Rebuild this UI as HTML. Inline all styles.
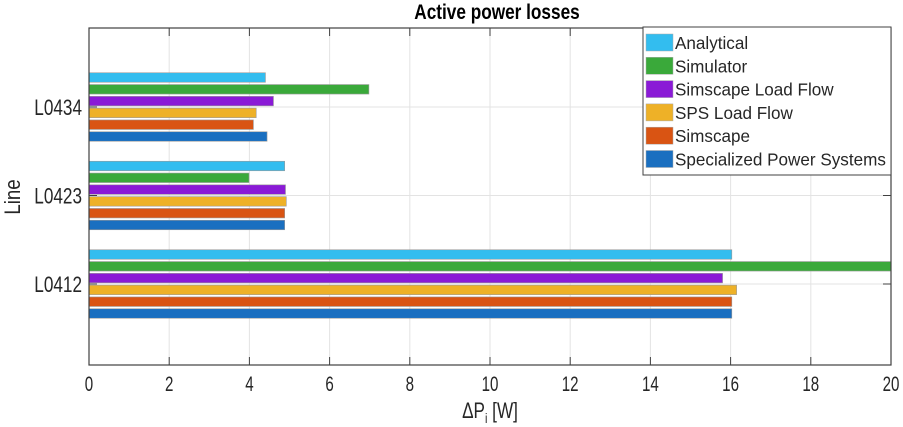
<!DOCTYPE html>
<html><head><meta charset="utf-8"><style>
html,body{margin:0;padding:0;background:#fff;}
svg{display:block;font-family:"Liberation Sans",sans-serif;}
</style></head><body>
<svg id="chart" width="903" height="427" viewBox="0 0 903 427" xmlns="http://www.w3.org/2000/svg"></svg>
<script>
const categories = ["L0434","L0423","L0412"];
const seriesNames = ["Analytical","Simulator","Simscape Load Flow","SPS Load Flow","Simscape","Specialized Power Systems"];
const analytical = [4.4, 4.88, 16.03];
const simulator = [6.98, 3.99, 20];
const simscapeLF = [4.6, 4.9, 15.8];
const spsLF = [4.17, 4.92, 16.15];
const simscape = [4.1, 4.88, 16.03];
const sps = [4.44, 4.88, 16.03];
const xTicks = [0,2,4,6,8,10,12,14,16,18,20];
const colors = ["#33bdef","#3aa93a","#8a1ad6","#eeb127","#d95413","#1a6fc0"];
const allSeries = [analytical, simulator, simscapeLF, spsLF, simscape, sps];

const NS="http://www.w3.org/2000/svg";
const svg=document.getElementById('chart');
const L=89,R=891,T=28,B=365;
const xs=v=>L+(v-0)/(20-0)*(R-L);
const yc=i=>107+i*88.5;
function mk(tag,attrs,parent){const e=document.createElementNS(NS,tag);for(const k in attrs)e.setAttribute(k,attrs[k]);(parent||svg).appendChild(e);return e;}
function sx(x,s){return `translate(${x},0) scale(${s},1) translate(${-x},0)`;}

xTicks.forEach(t=>{
  const g=mk('line',{x1:xs(t),x2:xs(t),y1:T,y2:B,stroke:'#e3e3e3','stroke-width':1});
  
  
});
categories.forEach((c,i)=>{
  const g=mk('line',{x1:L,x2:R,y1:yc(i),y2:yc(i),stroke:'#e3e3e3','stroke-width':1});
  
  
});
const step=11.8,bh=9.5;
allSeries.forEach((ser,s)=>{
  ser.forEach((v,i)=>{
    const y=yc(i)+(s-2.5)*step-bh/2;
    const r=mk('rect',{x:xs(0),y:y,width:xs(v)-xs(0),height:bh,fill:colors[s],stroke:'#9a9a9a','stroke-width':0.6});
    
    
  });
});
const box=mk('rect',{x:L,y:T,width:R-L,height:B-T,fill:'none',stroke:'#404040','stroke-width':1.2});


xTicks.forEach(t=>{
  mk('line',{x1:xs(t),x2:xs(t),y1:B,y2:B-8,stroke:'#404040'});
  mk('line',{x1:xs(t),x2:xs(t),y1:T,y2:T+8,stroke:'#404040'});
  const tx=mk('text',{x:xs(t),y:391,'font-size':21,'text-anchor':'middle',fill:'#262626',transform:sx(xs(t),0.72)});
  tx.textContent=t;
  
  
});
categories.forEach((c,i)=>{
  mk('line',{x1:L,x2:L+8,y1:yc(i),y2:yc(i),stroke:'#404040'});
  mk('line',{x1:R,x2:R-8,y1:yc(i),y2:yc(i),stroke:'#404040'});
  const tx=mk('text',{x:82,y:yc(i)+8,'font-size':22,'text-anchor':'end',fill:'#262626',transform:sx(82,0.78)});
  tx.textContent=c;
  
  
});
const title=mk('text',{x:497,y:19,'font-size':21,'font-weight':'bold','text-anchor':'middle',fill:'#000',transform:sx(497,0.82)});
title.textContent='Active power losses';


const xl=mk('text',{x:490,y:418,'font-size':22,'text-anchor':'middle',fill:'#262626',transform:sx(490,0.78)});
xl.innerHTML='ΔP<tspan font-size="14" dy="5">i</tspan><tspan dy="-5">  [W]</tspan>';


const yl=mk('text',{x:20,y:197,'font-size':22,'text-anchor':'middle',fill:'#262626',transform:'rotate(-90 20 197) '+sx(20,0.85)});
yl.textContent='Line';


const lg=mk('g',{});


mk('rect',{x:643,y:27,width:248,height:148,fill:'#fff',stroke:'#404040','stroke-width':1},lg);
seriesNames.forEach((n,s)=>{
  const ey=34+s*23.3;
  const ge=mk('g',{},lg);
  
  
  mk('rect',{x:646,y:ey,width:27,height:17,fill:colors[s],stroke:'#aaa','stroke-width':0.5},ge);
  const t=mk('text',{x:675,y:ey+15,'font-size':18,fill:'#262626',transform:sx(675,0.95)},ge);
  t.textContent=n;
});
</script>
</body></html>
